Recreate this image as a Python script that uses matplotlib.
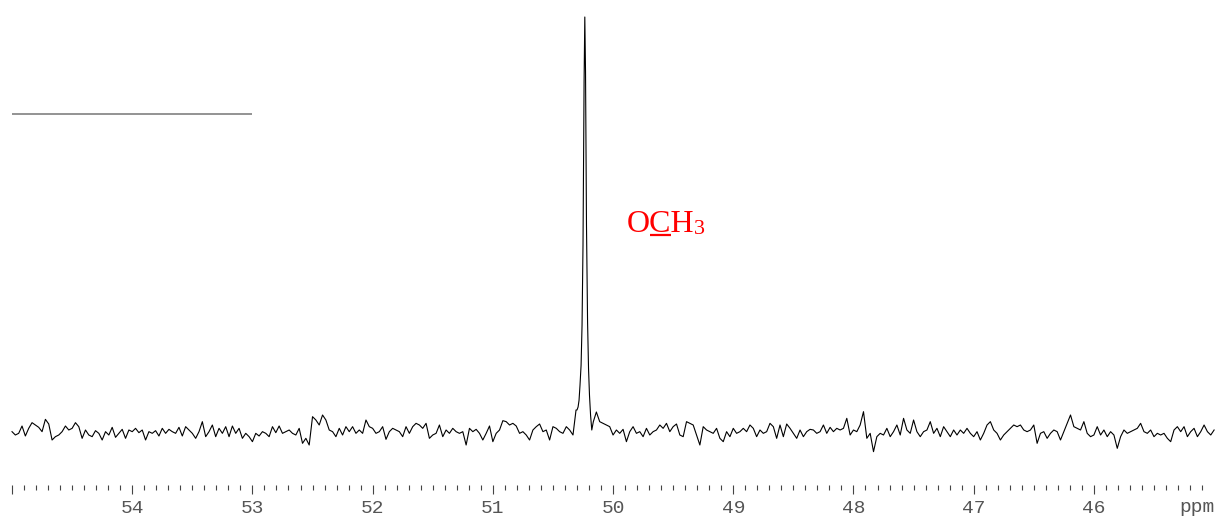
import numpy as np
import matplotlib
matplotlib.use('Agg')
import matplotlib.pyplot as plt
from matplotlib.ticker import FixedLocator

# baseline intensities, 361 points evenly spaced from 55.0 to 45.0 ppm
noise_a = [1, -9, -4, 18, -12, 11, 28, 21, 14, 1, 38, 24, -24, -14, -9, 1, 18, 6, 11, 28,
           16, -19, 6, -9, -14, 4, -4, -24, 1, -9, 14, -16, -4, 8, -19, 6, 1, 11, -2, 6,
           -24, 1, -4, 4, -12, 11, -4, 8, 1, -4, 14, -12, 16, 6, -4, -19, 1, 31, -14, 1]
noise_b = [21, -14, 11, -4, 16, -14, 18, -4, 11, -19, -4, -14, -29, -4, -12, 1, -4, -14, 16, -2,
           18, -4, 1, 6, -4, -9, 11, -34, -19, -39, 46, 36, 21, 51, 36, 6, 1, -14, 11, -9,
           16, 1, 16, -4, 6, -4, 36, 16, 11, -4, 1, 16, -22, 1, 11, 6, 1, -14, 16, -4]
noise_c = [16, 26, 21, 11, 26, -19, -9, -4, 21, -14, 6, -4, 11, 1, -4, 1, -39, 11, 1, 8,
           -4, -24, -4, 18, -29, -4, 6, 34, 31, 21, 26, 18, -4, 1, -9, -24, 6, 16, 24, 1,
           6, -24, 16, 11, 1, -4, 16, 6, -9, -4, 66, 66, 60, 60, 60, 60, 31, 26, 21, 16]
noise_d = [-9, 6, -4, 8, -29, 1, 16, -4, 1, -14, 11, -9, 1, 6, 21, 11, 26, 1, 16, 24,
           -9, -14, 31, 26, 21, -9, -39, 16, 6, 1, -4, 11, -19, -29, 1, -14, 11, -4, 1, 11,
           1, 21, 11, -14, 6, -4, 1, 26, 16, -19, 21, -14, 24, 11, -4, -19, 6, -14, 1, 8]
noise_e = [6, -4, 1, 21, -4, 14, 1, 11, 6, 11, 41, -9, 6, 1, 21, 61, -19, -4, -59, -14,
           -4, -9, 11, -14, 1, 21, -9, 41, 6, -4, 36, 1, -14, 1, 6, 31, -4, 11, -14, 16,
           1, -14, 6, -9, 6, -4, 11, -4, -14, 1, -24, -4, 21, 31, 6, -4, -24, -9, 1, 11]
noise_f = [21, 16, 21, 6, 1, 6, 21, -34, -4, 1, -19, -4, 6, 1, -24, 1, 26, 51, 16, 11,
           6, 31, -4, -14, -9, 16, -9, 6, -14, 1, -9, -49, -14, 6, -4, 1, 6, 11, 26, 1,
           -4, 6, -14, -4, -9, -4, -19, -29, 6, 16, 1, 16, -14, 1, 11, -14, 1, 21, 1, -9, 6]

# the OCH3 line, read point by point
peak_ppm = [50.308, 50.300, 50.291, 50.283, 50.275, 50.266, 50.258, 50.250, 50.241, 50.235,
            50.229, 50.221, 50.212, 50.204, 50.196, 50.187, 50.177, 50.164]
peak_int = [66, 66, 75, 95, 140, 200, 320, 560, 1050, 1245,
            1080, 620, 330, 190, 110, 50, 6, 31]

major_ticks = [55, 54, 53, 52, 51, 50, 49, 48, 47, 46]
tick_labels = ['', '54', '53', '52', '51', '50', '49', '48', '47', '46']

noise = np.array(noise_a + noise_b + noise_c + noise_d + noise_e + noise_f, dtype=float)
ppm = np.linspace(55.0, 45.0, len(noise))
keep = (ppm > max(peak_ppm) + 0.004) | (ppm < min(peak_ppm) - 0.004)
x = np.concatenate([ppm[keep], peak_ppm])
y = np.concatenate([noise[keep], peak_int])
order = np.argsort(-x)
x, y = x[order], y[order]

fig = plt.figure(figsize=(12.15, 5.18), dpi=100)
ax = fig.add_axes([0, 33 / 518, 1, 485 / 518])
ax.plot(x, y, color='black', lw=0.8)

# integral-style bar top left
ax.hlines(955, 55.0, 53.0, color='#808080', lw=1.2)

ax.set_xlim(55 + 12 / 120.1, 46 - 121 / 120.1)
ax.set_ylim(-159, 1296)
for s in ax.spines.values():
    s.set_visible(False)
ax.set_yticks([])

minor = [round(45.1 + 0.1 * i, 1) for i in range(99)]
minor = [m for m in minor if abs(m - round(m)) > 0.01]
ax.xaxis.set_major_locator(FixedLocator(major_ticks))
ax.xaxis.set_minor_locator(FixedLocator(minor))
ax.set_xticklabels(tick_labels, family='Liberation Mono', fontsize=14, color='#555555')
ax.tick_params(axis='x', which='major', length=6.5, width=0.8, color='#444444', pad=4)
ax.tick_params(axis='x', which='minor', length=3.3, width=0.8, color='#444444')

fig.text(1215 / 1215, 1 - 507 / 518, 'ppm', ha='right', va='center',
         family='Liberation Mono', fontsize=14, color='#555555')

# label: O C H 3 with underlined C
lx, ly = 49.886, 600
t = ax.text(lx, ly, 'OCH', family='Liberation Serif', fontsize=23, color='red',
            va='baseline', ha='left')
fig.canvas.draw()
r = fig.canvas.get_renderer()
t_o = ax.text(lx, ly, 'O', family='Liberation Serif', fontsize=23, va='baseline', alpha=0)
t_oc = ax.text(lx, ly, 'OC', family='Liberation Serif', fontsize=23, va='baseline', alpha=0)
inv = ax.transData.inverted()
x0 = inv.transform((t_o.get_window_extent(r).x1, 0))[0]
x1 = inv.transform((t_oc.get_window_extent(r).x1, 0))[0]
x2 = inv.transform((t.get_window_extent(r).x1, 0))[0]
t_o.remove()
t_oc.remove()
ax.text(x2, ly - 5, '3', family='Liberation Serif', fontsize=16, color='red',
        va='baseline', ha='left')
ax.hlines(ly - 10, x0, x1, color='red', lw=1.6)

fig.savefig('out.png', dpi=100)
